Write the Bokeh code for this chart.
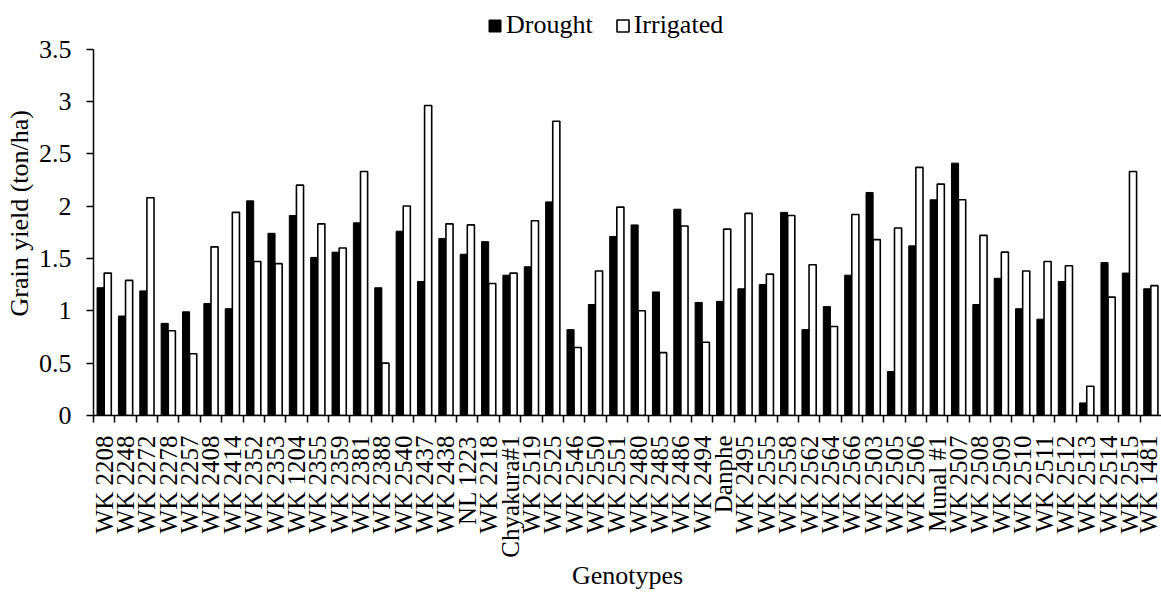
import math
from bokeh.plotting import figure
from bokeh.models import (Range1d, FixedTicker, CustomJSTickFormatter, NumeralTickFormatter,
                          Legend, LegendItem)
from bokeh.embed import file_html
from bokeh.resources import INLINE

genotypes = ["WK 2208", "WK 2248", "WK 2272", "WK 2278", "WK 2257", "WK 2408", "WK 2414",
             "WK 2352", "WK 2353", "WK 1204", "WK 2355", "WK 2359", "WK 2381", "WK 2388",
             "WK 2540", "WK 2437", "WK 2438", "NL 1223", "WK 2218", "Chyakura#1", "WK 2519",
             "WK 2525", "WK 2546", "WK 2550", "WK 2551", "WK 2480", "WK 2485", "WK 2486",
             "WK 2494", "Danphe", "WK 2495", "WK 2555", "WK 2558", "WK 2562", "WK 2564",
             "WK 2566", "WK 2503", "WK 2505", "WK 2506", "Munal #1", "WK 2507", "WK 2508",
             "WK 2509", "WK 2510", "WK 2511", "WK 2512", "WK 2513", "WK 2514", "WK 2515",
             "WK 1481"]

drought = [1.22, 0.95, 1.19, 0.88, 0.99, 1.07, 1.02, 2.05, 1.74, 1.91,
           1.51, 1.56, 1.84, 1.22, 1.76, 1.28, 1.69, 1.54, 1.66, 1.34,
           1.42, 2.04, 0.82, 1.06, 1.71, 1.82, 1.18, 1.97, 1.08, 1.09,
           1.21, 1.25, 1.94, 0.82, 1.04, 1.34, 2.13, 0.42, 1.62, 2.06,
           2.41, 1.06, 1.31, 1.02, 0.92, 1.28, 0.12, 1.46, 1.36, 1.21]

irrigated = [1.36, 1.29, 2.08, 0.81, 0.59, 1.61, 1.94, 1.47, 1.45, 2.20,
             1.83, 1.60, 2.33, 0.50, 2.00, 2.96, 1.83, 1.82, 1.26, 1.36,
             1.86, 2.81, 0.65, 1.38, 1.99, 1.00, 0.60, 1.81, 0.70, 1.78,
             1.93, 1.35, 1.91, 1.44, 0.85, 1.92, 1.68, 1.79, 2.37, 2.21,
             2.06, 1.72, 1.56, 1.38, 1.47, 1.43, 0.28, 1.13, 2.33, 1.24]

y_ticks = [0, 0.5, 1, 1.5, 2, 2.5, 3, 3.5]
Y_MAX = 3.5

FONT = "Liberation Serif"
FS = "26px"
FS_X = "25px"

n = len(genotypes)
centers = [i + 0.5 for i in range(n)]
bounds = [i for i in range(n)]
x_d = [i + 1 / 3 for i in range(n)]
x_i = [i + 2 / 3 for i in range(n)]

# frame extends above 3.5 to hold the legend; the y axis line stops at 3.5
TOP_PAD = 4
FRAME_BOTTOM = 415
Y3_5 = 48.5
px_per_unit = (FRAME_BOTTOM - Y3_5) / Y_MAX
y_end = (FRAME_BOTTOM - TOP_PAD) / px_per_unit

p = figure(width=1161, height=592, output_backend="svg", toolbar_location=None,
           x_range=Range1d(0, n), y_range=Range1d(0, y_end),
           min_border_left=93, min_border_right=0, min_border_top=TOP_PAD,
           min_border_bottom=592 - FRAME_BOTTOM)
p.outline_line_color = None
p.xgrid.visible = False
p.ygrid.visible = False
p.background_fill_color = "white"
p.border_fill_color = "white"

r_d = p.vbar(x=x_d, top=drought, width=1 / 3, fill_color="black", line_color="black",
             line_width=1)
r_i = p.vbar(x=x_i, top=irrigated, width=1 / 3, fill_color="white", line_color="black",
             line_width=1.6)

# x axis
xa = p.xaxis[0]
xa.ticker = FixedTicker(ticks=centers, minor_ticks=bounds)
xa.formatter = CustomJSTickFormatter(args=dict(labels=genotypes),
                                     code="return labels[Math.floor(tick)];")
xa.major_label_orientation = math.pi / 2
xa.major_tick_out = 0
xa.major_tick_in = 0
xa.minor_tick_out = 7
xa.minor_tick_in = 0
xa.minor_tick_line_color = "black"
xa.minor_tick_line_width = 1.5
xa.axis_line_color = "black"
xa.axis_line_width = 1.5
xa.major_label_standoff = 13
xa.major_label_text_font = FONT
xa.major_label_text_font_size = FS_X
xa.major_label_text_color = "black"
xa.axis_label = "Genotypes"
xa.axis_label_text_font = FONT
xa.axis_label_text_font_size = FS
xa.axis_label_text_font_style = "normal"
xa.axis_label_text_color = "black"
xa.axis_label_standoff = 0

# y axis
ya = p.yaxis[0]
ya.bounds = (0, Y_MAX)
ya.ticker = FixedTicker(ticks=y_ticks)
ya.formatter = NumeralTickFormatter(format="0.[0]")
ya.major_tick_out = 7
ya.major_tick_in = 0
ya.minor_tick_out = 0
ya.minor_tick_in = 0
ya.major_tick_line_color = "black"
ya.major_tick_line_width = 1.5
ya.axis_line_color = "black"
ya.axis_line_width = 1.5
ya.major_label_standoff = 15
ya.major_label_text_font = FONT
ya.major_label_text_font_size = FS
ya.major_label_text_color = "black"
ya.axis_label = "Grain yield  (ton/ha)"
ya.axis_label_text_font = FONT
ya.axis_label_text_font_size = FS
ya.axis_label_text_font_style = "normal"
ya.axis_label_text_color = "black"
ya.axis_label_standoff = 2

legend = Legend(items=[LegendItem(label="Drought", renderers=[r_d]),
                       LegendItem(label="Irrigated", renderers=[r_i])],
                location=(394, FRAME_BOTTOM - 40), orientation="horizontal",
                glyph_width=15, glyph_height=15, label_standoff=4, spacing=22,
                padding=0, margin=0,
                label_text_font=FONT, label_text_font_size=FS, label_text_color="black",
                border_line_color=None, background_fill_alpha=0)
p.add_layout(legend, "center")

open("out.html", "w").write(file_html(p, INLINE))
